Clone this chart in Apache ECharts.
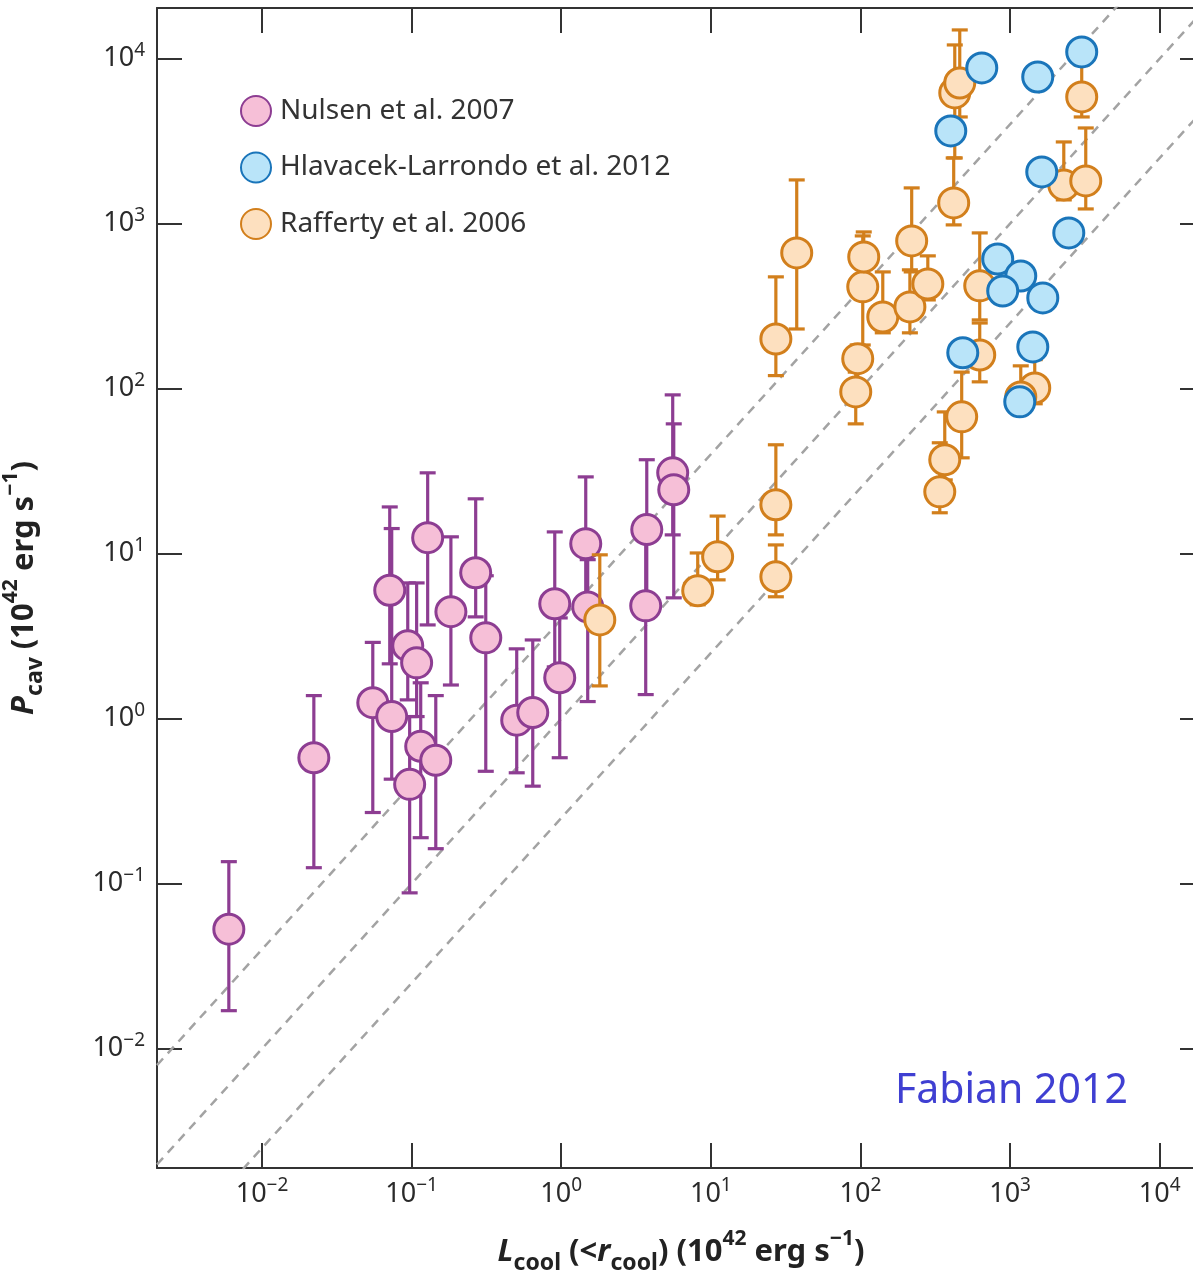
<!DOCTYPE html>
<html>
<head>
<meta charset="utf-8">
<script src="https://cdn.jsdelivr.net/npm/echarts@6/dist/echarts.min.js"></script>
<style>
    html, body { margin: 0; padding: 0; background: #fff; }
    #chart { width: 1193px; height: 1274px; }
</style>
</head>
<body>
<div id="chart"></div>
<script>
// [L_cool, P_cav, P_cav low, P_cav high]  (10^42 erg/s)
const nulsen = [
    [0.0060, 0.053, 0.017, 0.136],
    [0.0222, 0.58, 0.125, 1.38],
    [0.055, 1.25, 0.27, 2.9],
    [0.0736, 1.03, 0.43, 14.2],
    [0.0714, 6.0, 2.15, 19.2],
    [0.0942, 2.77, 1.3, 6.65],
    [0.108, 2.18, 1.03, 6.65],
    [0.115, 0.68, 0.19, 1.65],
    [0.097, 0.40, 0.088, 1.03],
    [0.145, 0.56, 0.163, 1.38],
    [0.128, 12.5, 3.7, 30.9],
    [0.183, 4.45, 1.6, 12.65],
    [0.268, 7.66, 4.14, 21.5],
    [0.313, 3.09, 0.48, 7.35],
    [0.504, 0.98, 0.47, 2.65],
    [0.645, 1.09, 0.39, 3.0],
    [0.905, 4.97, 2.06, 13.55],
    [0.977, 1.77, 0.58, 4.08],
    [1.458, 11.5, 5.25, 29.2],
    [1.503, 4.76, 1.27, 9.2],
    [3.73, 14.0, 5.25, 37.1],
    [3.67, 4.83, 1.4, 12.1],
    [5.56, 30.9, 13.0, 91.7],
    [5.65, 24.4, 5.4, 61.2],
];

const rafferty = [
    [1.81, 3.97, 1.58, 9.84],
    [8.17, 5.96, 4.9, 10.1],
    [11.1, 9.57, 6.94, 16.9],
    [27.2, 19.8, 13.0, 45.7],
    [27.2, 7.24, 5.48, 11.3],
    [27.2, 200, 120, 476],
    [37.5, 665, 230, 1841],
    [93, 95.6, 61.2, 126],
    [95.9, 152, 105, 184],
    [103.6, 414, 184, 843],
    [105.2, 629, 456, 891],
    [141, 272, 218, 510],
    [214, 313, 218, 525],
    [220, 786, 510, 1647],
    [282, 431, 345, 638],
    [339, 23.7, 17.7, 47],
    [366, 37.1, 28, 72.3],
    [475, 67.5, 38.1, 126],
    [627, 160, 110, 250],
    [627, 420, 261, 879],
    [420, 1336, 983, 2502],
    [427, 6200, 2502, 12110],
    [461, 7120, 4433, 14930],
    [1462, 101, 81, 150],
    [1179, 89, 75, 137.5],
    [2286, 1717, 1393, 3128],
    [3206, 1815, 1228, 3802],
    [3013, 5861, 4433, 9160],
];

// [L_cool, P_cav]
const hlavacek = [
    [401.5, 3648], [647, 8787], [1531, 7745], [3013, 10980],
    [1629, 2058], [2469, 879], [827, 611], [1179, 482],
    [893, 391], [1655, 355], [483, 165], [1419, 179], [1161, 83.2],
];

// dashed guide lines P_cav = k * L_cool
const lineRatios = [4, 1, 0.25];

const xMin = Math.pow(10, -2.702), xMax = Math.pow(10, 4.303);
const yMin = Math.pow(10, -2.723), yMax = Math.pow(10, 4.307);

const fontFamily = "'Noto Sans', 'Open Sans', sans-serif";

function powLabel(v) {
    const e = Math.log10(v);
    const r = Math.round(e);
    if (Math.abs(e - r) > 1e-6) return "";
    return "{b|10}{s|" + (r < 0 ? "\u2212" + -r : r) + "}";
}

const labelRich = {
    b: { fontSize: 27, lineHeight: 36, color: "#2a2a2a", fontFamily: fontFamily },
    s: { fontSize: 19, lineHeight: 26, verticalAlign: "top", color: "#2a2a2a", fontFamily: fontFamily },
};

const nameRich = {
    i: { fontSize: 31, fontWeight: "bold", fontStyle: "italic", lineHeight: 46, color: "#222", fontFamily: fontFamily },
    n: { fontSize: 31, fontWeight: "bold", lineHeight: 46, color: "#222", fontFamily: fontFamily },
    sub: { fontSize: 23, fontWeight: "bold", lineHeight: 27, verticalAlign: "bottom", color: "#222", fontFamily: fontFamily },
    sup: { fontSize: 21, fontWeight: "bold", lineHeight: 31, verticalAlign: "top", color: "#222", fontFamily: fontFamily },
};

const axisLine = { show: true, lineStyle: { color: "#333", width: 2 } };
const axisTick = { show: true, inside: true, length: 25, lineStyle: { color: "#333", width: 2 } };

function errorBars(color) {
    return function (params, api) {
        const x = api.value(0);
        const lo = api.coord([x, api.value(1)]);
        const hi = api.coord([x, api.value(2)]);
        const w = 8;
        const style = { stroke: color, lineWidth: 3.2 };
        return {
            type: "group",
            children: [
                { type: "line", shape: { x1: lo[0], y1: lo[1], x2: hi[0], y2: hi[1] }, style: style },
                { type: "line", shape: { x1: lo[0] - w, y1: lo[1], x2: lo[0] + w, y2: lo[1] }, style: style },
                { type: "line", shape: { x1: hi[0] - w, y1: hi[1], x2: hi[0] + w, y2: hi[1] }, style: style },
            ],
        };
    };
}

const guideSeries = lineRatios.map(function (k) {
    return {
        type: "line",
        data: [[xMin, k * xMin], [xMax, k * xMax]],
        symbol: "none",
        silent: true,
        clip: true,
        z: 1,
        lineStyle: { color: "#a3a3a3", width: 2.5, type: [9, 7] },
    };
});

const chart = echarts.init(document.getElementById("chart"));

chart.setOption({
    animation: false,
    backgroundColor: "#fff",
    grid: { left: 157, top: 8, right: -12, bottom: 106, containLabel: false, outerBoundsMode: "none" },
    legend: {
        data: ["Nulsen et al. 2007", "Hlavacek-Larrondo et al. 2012", "Rafferty et al. 2006"],
        orient: "vertical",
        left: 235,
        top: 90,
        itemWidth: 30,
        itemHeight: 30,
        itemGap: 24.5,
        icon: "circle",
        textStyle: { fontSize: 28, color: "#333", fontFamily: fontFamily, padding: [0, 0, 0, 4] },
    },
    graphic: [
        {
            type: "text",
            left: 895,
            top: 1071,
            style: { text: "Fabian 2012", fontSize: 41, fill: "#3f3fd2", fontFamily: fontFamily },
        },
    ],
    xAxis: [
        {
            type: "log",
            min: xMin,
            max: xMax,
            position: "bottom",
            axisLine: axisLine,
            axisTick: axisTick,
            minorTick: { show: false },
            splitLine: { show: false },
            axisLabel: { formatter: powLabel, rich: labelRich, margin: 8 },
            name: "{i|L}{sub|cool}{n| (<}{i|r}{sub|cool}{n|) (10}{sup|42}{n| erg s}{sup|\u22121}{n|)}",
            nameLocation: "middle",
            nameGap: 61,
            nameTextStyle: { rich: nameRich },
        },
        {
            type: "log",
            min: xMin,
            max: xMax,
            position: "top",
            axisLine: axisLine,
            axisTick: axisTick,
            splitLine: { show: false },
            axisLabel: { show: false },
        },
    ],
    yAxis: [
        {
            type: "log",
            min: yMin,
            max: yMax,
            position: "left",
            axisLine: axisLine,
            axisTick: axisTick,
            minorTick: { show: false },
            splitLine: { show: false },
            axisLabel: { formatter: powLabel, rich: labelRich, margin: 12 },
            name: "{i|P}{sub|cav}{n| (10}{sup|42}{n| erg s}{sup|\u22121}{n|)}",
            nameLocation: "middle",
            nameGap: 110,
            nameTextStyle: { rich: nameRich },
        },
        {
            type: "log",
            min: yMin,
            max: yMax,
            position: "right",
            axisLine: { show: false },
            axisTick: axisTick,
            splitLine: { show: false },
            axisLabel: { show: false },
        },
    ],
    series: guideSeries.concat([
        {
            type: "custom",
            renderItem: errorBars("#8d3d92"),
            data: nulsen.map(function (d) { return [d[0], d[2], d[3]]; }),
            encode: { x: 0, y: [1, 2] },
            clip: true,
            silent: true,
            z: 2,
        },
        {
            name: "Nulsen et al. 2007",
            type: "scatter",
            data: nulsen.map(function (d) { return [d[0], d[1]]; }),
            symbolSize: 30,
            z: 3,
            itemStyle: { color: "#f6bfd7", borderColor: "#8d3d92", borderWidth: 3, opacity: 1 },
        },
        {
            type: "custom",
            renderItem: errorBars("#d27f1c"),
            data: rafferty.map(function (d) { return [d[0], d[2], d[3]]; }),
            encode: { x: 0, y: [1, 2] },
            clip: true,
            silent: true,
            z: 4,
        },
        {
            name: "Rafferty et al. 2006",
            type: "scatter",
            data: rafferty.map(function (d) { return [d[0], d[1]]; }),
            symbolSize: 30,
            z: 5,
            itemStyle: { color: "#fde0bf", borderColor: "#d27f1c", borderWidth: 3, opacity: 1 },
        },
        {
            name: "Hlavacek-Larrondo et al. 2012",
            type: "scatter",
            data: hlavacek,
            symbolSize: 30,
            z: 6,
            itemStyle: { color: "#b9e4f9", borderColor: "#1a75ba", borderWidth: 3, opacity: 1 },
        },
    ]),
});
</script>
</body>
</html>
